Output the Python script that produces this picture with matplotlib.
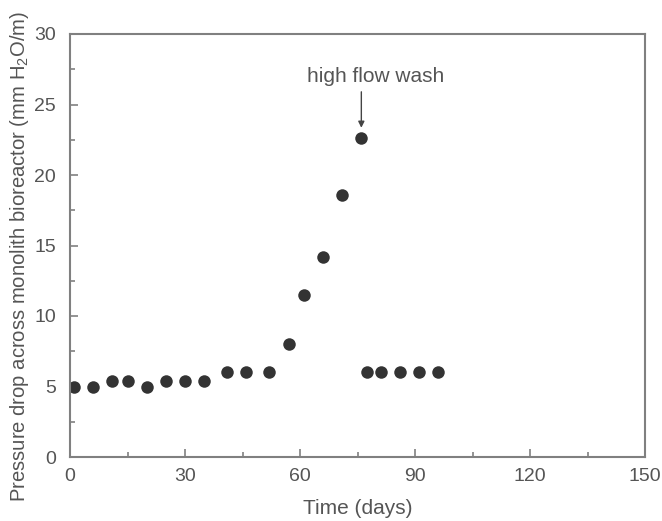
import matplotlib
matplotlib.use('Agg')
import matplotlib.pyplot as plt
from matplotlib.ticker import MultipleLocator

# Pressure drop across the monolith bioreactor over time
days = [1, 6, 11, 15, 20, 25, 30, 35, 41, 46, 52, 57, 61, 66, 71, 76,
        77.5, 81, 86, 91, 96]
pressure = [5.0, 5.0, 5.4, 5.4, 5.0, 5.4, 5.4, 5.4, 6.0, 6.0, 6.0, 8.0,
            11.5, 14.2, 18.6, 22.6, 6.0, 6.0, 6.0, 6.0, 6.0]
wash_day = 76
wash_value = 22.6

text_color = '#555555'
axis_color = '#808080'
plt.rcParams['font.family'] = 'Liberation Sans'
plt.rcParams['mathtext.fontset'] = 'custom'
plt.rcParams['mathtext.rm'] = 'Liberation Sans'

fig = plt.figure(figsize=(6.62, 5.21), dpi=100, facecolor='w')
ax = fig.add_axes([70 / 662, 1 - 457 / 521, 575 / 662, 423 / 521])

ax.plot(days, pressure, 'o', color='#333333', markersize=9, markeredgewidth=0)

ax.annotate('', xy=(wash_day, wash_value + 0.75), xytext=(wash_day, 25.9),
            arrowprops=dict(arrowstyle='-|>', color='#444444', lw=1,
                            mutation_scale=9, shrinkA=0, shrinkB=0))
ax.text(wash_day + 3.6, 26.3, 'high flow wash', ha='center', va='bottom',
        fontsize=15, color=text_color)

ax.set_xlim(0, 150)
ax.set_ylim(0, 30)
ax.xaxis.set_major_locator(MultipleLocator(30))
ax.xaxis.set_minor_locator(MultipleLocator(15))
ax.yaxis.set_major_locator(MultipleLocator(5))
ax.yaxis.set_minor_locator(MultipleLocator(2.5))

ax.tick_params(which='both', direction='in', colors=axis_color,
               labelcolor=text_color, labelsize=14, top=False, right=False)
ax.tick_params(which='major', length=6, width=1.2)
ax.tick_params(which='minor', length=3.5, width=1.2)
ax.tick_params(axis='x', pad=8)
ax.tick_params(axis='y', pad=10)

for s in ax.spines.values():
    s.set_color(axis_color)
    s.set_linewidth(1.5)

ax.set_xlabel('Time (days)', fontsize=15, color=text_color, labelpad=10)
ax.set_ylabel('Pressure drop across monolith bioreactor (mm H$_\\mathregular{2}$O/m)',
              fontsize=14.6, color=text_color)
ax.yaxis.set_label_coords(-0.068, 0.475)

fig.savefig('out.png', dpi=100)
plt.close()
